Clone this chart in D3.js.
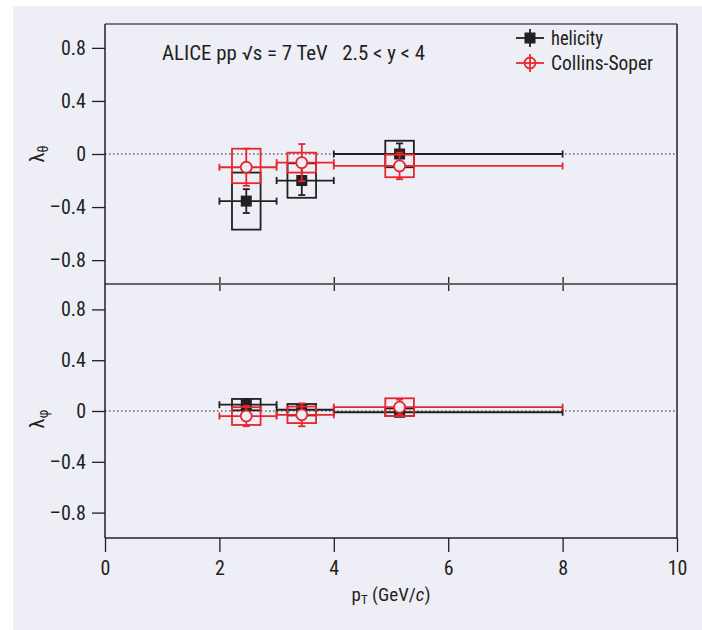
<!DOCTYPE html>
<html>
<head>
<meta charset="utf-8">
<script src="https://cdn.jsdelivr.net/npm/d3@7"></script>
<style>
  html, body { margin: 0; padding: 0; background: #ffffff; }
  svg { display: block; }
  text { font-family: "Roboto Condensed", "Liberation Sans Narrow", "Roboto", sans-serif; fill: #231f20; }
</style>
</head>
<body>
<svg id="chart" width="702" height="630"></svg>
<script>
// pT bins (GeV/c) and mean pT of each bin
const ptLow  = [2, 3, 4];
const ptHigh = [3, 4, 8];
const ptMean = [2.47, 3.44, 5.15];

// lambda_theta, helicity frame
const thetaHel      = [-0.355, -0.20, 0.00];
const thetaHelStat  = [0.09, 0.11, 0.08];
const thetaHelSysUp = [0.215, 0.13, 0.10];
const thetaHelSysDn = [0.215, 0.13, 0.10];

// lambda_theta, Collins-Soper frame
const thetaCS      = [-0.10, -0.065, -0.09];
const thetaCSStat  = [0.14, 0.14, 0.10];
const thetaCSSysUp = [0.14, 0.075, 0.085];
const thetaCSSysDn = [0.12, 0.075, 0.085];

// lambda_phi, helicity frame
const phiHel      = [0.05, 0.01, -0.01];
const phiHelStat  = [0.04, 0.04, 0.03];
const phiHelSysUp = [0.045, 0.045, 0.03];
const phiHelSysDn = [0.045, 0.045, 0.03];

// lambda_phi, Collins-Soper frame
const phiCS      = [-0.04, -0.03, 0.03];
const phiCSStat  = [0.08, 0.09, 0.06];
const phiCSSysUp = [0.07, 0.065, 0.07];
const phiCSSysDn = [0.07, 0.065, 0.07];

const xTicks = [0, 2, 4, 6, 8, 10];
const yTicks = [-0.8, -0.4, 0, 0.4, 0.8];
const yTickLabels = ["\u20130.8", "\u20130.4", "0", "0.4", "0.8"];
const seriesNames = ["helicity", "Collins-Soper"];
const annotation = "ALICE pp \u221As = 7 TeV   2.5 < y < 4";

const BLACK = "#231f20";
const RED = "#e8262d";
const BG = "#eeeef6";

const svg = d3.select("#chart");

svg.append("rect").attr("x", 13).attr("y", 6).attr("width", 689).attr("height", 624).attr("fill", BG);

const x = d3.scaleLinear().domain([0, 10]).range([105, 677]);
const yTop = d3.scaleLinear().domain([-0.98, 0.98]).range([284, 24]);
const yBot = d3.scaleLinear().domain([-1, 1]).range([538, 284]);

const fmt = v => yTickLabels[yTicks.indexOf(v)];

function styleAxis(g) {
  g.selectAll(".domain").remove();
  g.selectAll(".tick line").attr("stroke", BLACK).attr("stroke-width", 1.3);
  g.selectAll(".tick text").attr("font-size", 20).attr("fill", BLACK)
    .style("font-family", '"Roboto Condensed", "Liberation Sans Narrow", "Roboto", sans-serif');
}

// y axes
[yTop, yBot].forEach(y => {
  const g = svg.append("g").attr("transform", "translate(105,0)")
    .call(d3.axisLeft(y).tickValues(yTicks).tickFormat(fmt).tickSize(13).tickSizeOuter(0).tickPadding(6));
  styleAxis(g);
});

// bottom x axis
const gx = svg.append("g").attr("transform", "translate(0,538)")
  .call(d3.axisBottom(x).tickValues(xTicks).tickFormat(d3.format("d")).tickSize(14).tickSizeOuter(0).tickPadding(9));
styleAxis(gx);

// ticks along the panel divider
[d3.axisTop, d3.axisBottom].forEach(ax => {
  const g = svg.append("g").attr("transform", "translate(0,284)")
    .call(ax(x).tickValues([2, 4, 6, 8]).tickFormat("").tickSize(7).tickSizeOuter(0));
  styleAxis(g);
});

// frame
svg.append("line").attr("x1", 105).attr("x2", 677).attr("y1", 24).attr("y2", 24).attr("stroke", "#555").attr("stroke-width", 1.5);
svg.append("line").attr("x1", 105).attr("x2", 677).attr("y1", 284).attr("y2", 284).attr("stroke", "#666").attr("stroke-width", 2);
svg.append("line").attr("x1", 105).attr("x2", 677).attr("y1", 538).attr("y2", 538).attr("stroke", BLACK).attr("stroke-width", 1.5);
svg.append("line").attr("x1", 105).attr("x2", 105).attr("y1", 24).attr("y2", 538).attr("stroke", BLACK).attr("stroke-width", 1.5);
svg.append("line").attr("x1", 677).attr("x2", 677).attr("y1", 24).attr("y2", 538).attr("stroke", BLACK).attr("stroke-width", 1.5);

// zero reference lines
[yTop, yBot].forEach(y => {
  svg.append("line").attr("x1", 105).attr("x2", 677).attr("y1", y(0)).attr("y2", y(0))
    .attr("stroke", BLACK).attr("stroke-width", 1.2).attr("stroke-dasharray", "1.5,2.5");
});

function drawSeries(y, vals, stat, sysUp, sysDn, color, marker) {
  const g = svg.append("g");
  const data = vals.map((v, i) => ({ v, i, stat: stat[i], up: sysUp[i], dn: sysDn[i] }));
  const cap = 3.5;
  // systematic boxes
  g.selectAll("rect.sys").data(data).enter().append("rect")
    .attr("x", d => x(ptMean[d.i] - 0.25)).attr("width", d => x(ptMean[d.i] + 0.25) - x(ptMean[d.i] - 0.25))
    .attr("y", d => y(d.v + d.up)).attr("height", d => y(d.v - d.dn) - y(d.v + d.up))
    .attr("fill", "none").attr("stroke", color).attr("stroke-width", 1.8);
  data.forEach(d => {
    const cx = x(ptMean[d.i]), cy = y(d.v);
    // horizontal bin-width bar with end caps
    g.append("line").attr("x1", x(ptLow[d.i])).attr("x2", x(ptHigh[d.i])).attr("y1", cy).attr("y2", cy)
      .attr("stroke", color).attr("stroke-width", 1.8);
    [ptLow[d.i], ptHigh[d.i]].forEach(p => {
      g.append("line").attr("x1", x(p)).attr("x2", x(p)).attr("y1", cy - cap).attr("y2", cy + cap)
        .attr("stroke", color).attr("stroke-width", 1.8);
    });
    // statistical error bar with caps
    const yh = y(d.v + d.stat), yl = y(d.v - d.stat);
    g.append("line").attr("x1", cx).attr("x2", cx).attr("y1", yh).attr("y2", yl)
      .attr("stroke", color).attr("stroke-width", 1.8);
    [yh, yl].forEach(yy => {
      g.append("line").attr("x1", cx - cap).attr("x2", cx + cap).attr("y1", yy).attr("y2", yy)
        .attr("stroke", color).attr("stroke-width", 1.8);
    });
    if (marker === "square") {
      g.append("rect").attr("x", cx - 5.5).attr("y", cy - 5.5).attr("width", 11).attr("height", 11).attr("fill", color);
    } else {
      g.append("circle").attr("cx", cx).attr("cy", cy).attr("r", 5.5)
        .attr("fill", BG).attr("stroke", color).attr("stroke-width", 1.8);
    }
  });
}

drawSeries(yTop, thetaHel, thetaHelStat, thetaHelSysUp, thetaHelSysDn, BLACK, "square");
drawSeries(yTop, thetaCS, thetaCSStat, thetaCSSysUp, thetaCSSysDn, RED, "circle");
drawSeries(yBot, phiHel, phiHelStat, phiHelSysUp, phiHelSysDn, BLACK, "square");
drawSeries(yBot, phiCS, phiCSStat, phiCSSysUp, phiCSSysDn, RED, "circle");

// legend
const legend = svg.append("g");
[{ name: seriesNames[0], color: BLACK, marker: "square", y: 38, w: 52 },
 { name: seriesNames[1], color: RED, marker: "circle", y: 63, w: 102 }].forEach(e => {
  const cx = 530;
  legend.append("line").attr("x1", cx - 14).attr("x2", cx + 14).attr("y1", e.y).attr("y2", e.y).attr("stroke", e.color).attr("stroke-width", 1.8);
  legend.append("line").attr("x1", cx).attr("x2", cx).attr("y1", e.y - 9).attr("y2", e.y + 9).attr("stroke", e.color).attr("stroke-width", 1.8);
  if (e.marker === "square") {
    legend.append("rect").attr("x", cx - 5.5).attr("y", e.y - 5.5).attr("width", 11).attr("height", 11).attr("fill", e.color);
  } else {
    legend.append("circle").attr("cx", cx).attr("cy", e.y).attr("r", 5.5).attr("fill", "none").attr("stroke", e.color).attr("stroke-width", 1.8);
  }
  legend.append("text").attr("x", 551).attr("y", e.y + 7).attr("font-size", 20)
    .attr("textLength", e.w).attr("lengthAdjust", "spacingAndGlyphs").text(e.name);
});

// annotation
svg.append("text").attr("x", 162).attr("y", 60).attr("font-size", 20).attr("xml:space", "preserve")
  .attr("textLength", 263).attr("lengthAdjust", "spacingAndGlyphs").text(annotation);

// axis titles
const xt = svg.append("text").attr("x", 391).attr("y", 601).attr("text-anchor", "middle").attr("font-size", 19);
xt.append("tspan").text("p");
xt.append("tspan").attr("font-size", 13).attr("dy", 3).text("T");
xt.append("tspan").attr("dy", -3).text(" (GeV/");
xt.append("tspan").attr("font-style", "italic").text("c");
xt.append("tspan").text(")");

[{ sub: "\u03b8", cy: yTop(0) }, { sub: "\u03c6", cy: yBot(0) + 8 }].forEach(l => {
  const t = svg.append("text").attr("transform", `translate(44,${l.cy}) rotate(-90)`)
    .attr("text-anchor", "middle").attr("font-size", 21);
  t.append("tspan").text("\u03bb");
  t.append("tspan").attr("font-size", 14).attr("dy", 4).text(l.sub);
});
</script>
</body>
</html>
